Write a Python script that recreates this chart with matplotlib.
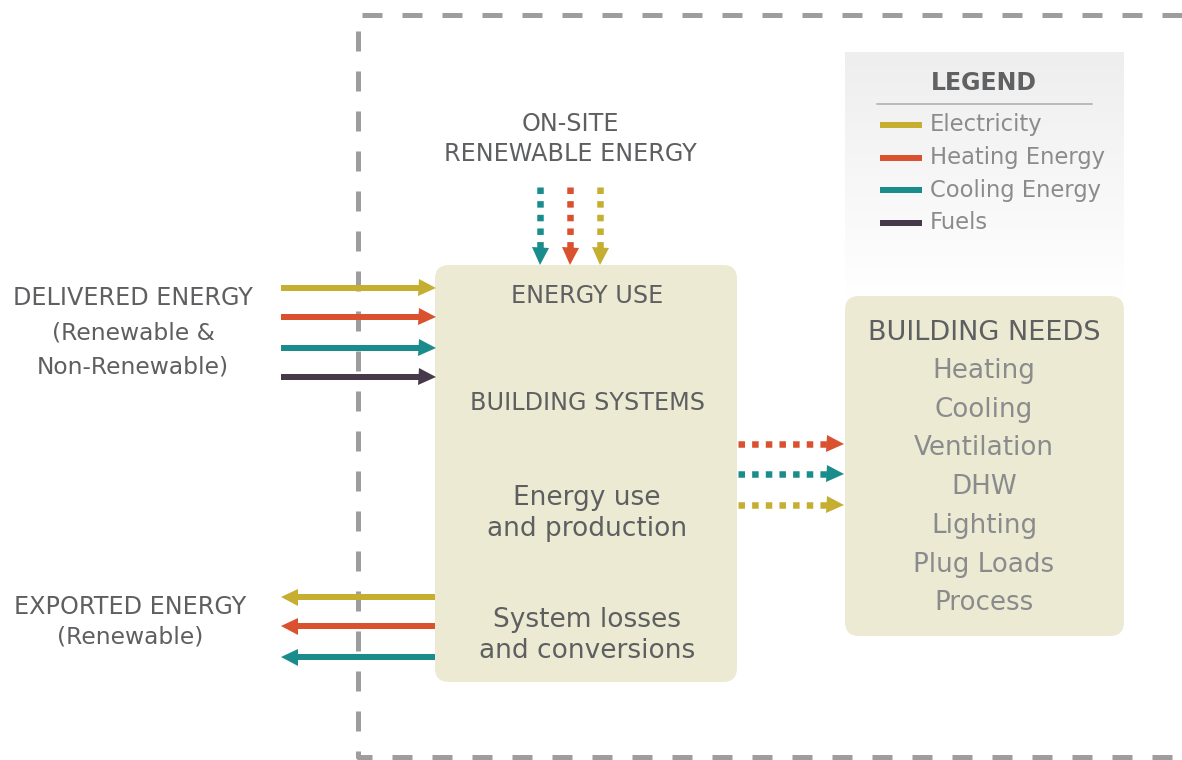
import numpy as np
import matplotlib.pyplot as plt
from matplotlib.patches import FancyBboxPatch
from matplotlib.colors import LinearSegmentedColormap

plt.rcParams['font.family'] = ['DejaVu Sans']

# energy carriers and colours
carriers = ['Electricity', 'Heating Energy', 'Cooling Energy', 'Fuels']
colors = {'Electricity': '#C5AE30', 'Heating Energy': '#D9512F',
          'Cooling Energy': '#1A8C8C', 'Fuels': '#463A4A'}

delivered = ['Electricity', 'Heating Energy', 'Cooling Energy', 'Fuels']
exported = ['Electricity', 'Heating Energy', 'Cooling Energy']
onsite = ['Cooling Energy', 'Heating Energy', 'Electricity']
to_needs = ['Heating Energy', 'Cooling Energy', 'Electricity']

needs = ['Heating', 'Cooling', 'Ventilation', 'DHW', 'Lighting', 'Plug Loads', 'Process']

W, H = 1182, 760
fig = plt.figure(figsize=(W / 100, H / 100), dpi=100)
ax = fig.add_axes([0, 0, 1, 1])

PX = 0.72  # points per pixel
dark = '#5E5F61'
light = '#8A8B8D'
box_col = '#ECEAD2'

# dashed boundary
ax.plot([1182, 358, 358, 1182], [15, 15, 757, 757], color='#9D9D9F', lw=5 * PX,
        dashes=(4, 4), solid_capstyle='butt', dash_capstyle='butt', zorder=1)

# legend background gradient (grey at top fading to white)
grad = np.linspace(0, 1, 256).reshape(-1, 1)
ax.imshow(grad, extent=(845, 1124, 300, 52),
          cmap=LinearSegmentedColormap.from_list('g', ['#EEEEEE', '#FFFFFF']),
          aspect='auto', zorder=2)
ax.set_xlim(0, W)
ax.set_ylim(H, 0)
ax.axis('off')

# boxes
for x0, y0, x1, y1 in [(435, 265, 737, 682), (845, 296, 1124, 636)]:
    ax.add_patch(FancyBboxPatch((x0, y0), x1 - x0, y1 - y0,
                                boxstyle='round,pad=0,rounding_size=14',
                                fc=box_col, ec='none', zorder=3))


def solid_arrow(x0, x1, y, c):
    d = np.sign(x1 - x0)
    ax.plot([x0, x1 - d * 12], [y, y], color=c, lw=6 * PX, solid_capstyle='butt', zorder=5)
    ax.plot([x1 - d * 8], [y], marker='>' if d > 0 else '<', color=c,
            markersize=17 * PX, mew=0, zorder=5)


def dotted_arrow(x0, y0, x1, y1, c):
    if y0 == y1:
        ax.plot([x0, x1 - 14], [y0, y1], color=c, lw=6.5 * PX, dashes=(1, 1.1),
                dash_capstyle='butt', zorder=5)
        ax.plot([x1 - 8], [y1], marker='>', color=c, markersize=17 * PX, mew=0, zorder=5)
    else:
        ax.plot([x0, x1], [y0, y1 - 14], color=c, lw=6.5 * PX, dashes=(1, 1.1),
                dash_capstyle='butt', zorder=5)
        ax.plot([x1], [y1 - 8], marker='v', color=c, markersize=17 * PX, mew=0, zorder=5)


for i, k in enumerate(delivered):
    solid_arrow(281, 435, [288, 317, 348, 377][i], colors[k])
for i, k in enumerate(exported):
    solid_arrow(435, 281, [597, 626, 657][i], colors[k])
for i, k in enumerate(onsite):
    xx = [540, 570, 600][i]
    dotted_arrow(xx, 187, xx, 264, colors[k])
for i, k in enumerate(to_needs):
    yy = [444, 474, 505][i]
    dotted_arrow(738, yy, 843, yy, colors[k])

fs = 17.2


def txt(x, y, s, c=dark, size=fs, **kw):
    ax.text(x, y, s, color=c, fontsize=size, ha='center', va='center', zorder=6, **kw)


txt(570, 124, 'ON-SITE')
txt(570, 154, 'RENEWABLE ENERGY')
txt(133, 298, 'DELIVERED ENERGY')
txt(133, 333, '(Renewable &', size=16.8)
txt(133, 367, 'Non-Renewable)', size=16.8)
txt(130, 607, 'EXPORTED ENERGY')
txt(130, 637, '(Renewable)', size=16.8)

txt(587, 296, 'ENERGY USE')
txt(587, 403, 'BUILDING SYSTEMS')
txt(587, 498, 'Energy use', size=19)
txt(587, 529, 'and production', size=19)
txt(587, 620, 'System losses', size=19)
txt(587, 651, 'and conversions', size=19)

txt(984, 333, 'BUILDING NEEDS', size=19.5)
for i, n in enumerate(needs):
    txt(984, 371 + i * 38.7, n, c=light, size=18.8)

# legend
txt(984, 83, 'LEGEND', c='#606163', size=17, fontweight='bold')
ax.plot([877, 1092], [104, 104], color='#AAAAAA', lw=1.5 * PX, zorder=6)
for i, k in enumerate(carriers):
    yy = 125 + i * 32.5
    ax.plot([880, 922], [yy, yy], color=colors[k], lw=6 * PX, solid_capstyle='butt', zorder=6)
    ax.text(930, yy, k, color=light, fontsize=16.3, ha='left', va='center', zorder=6)

fig.savefig('out.png', dpi=100)
